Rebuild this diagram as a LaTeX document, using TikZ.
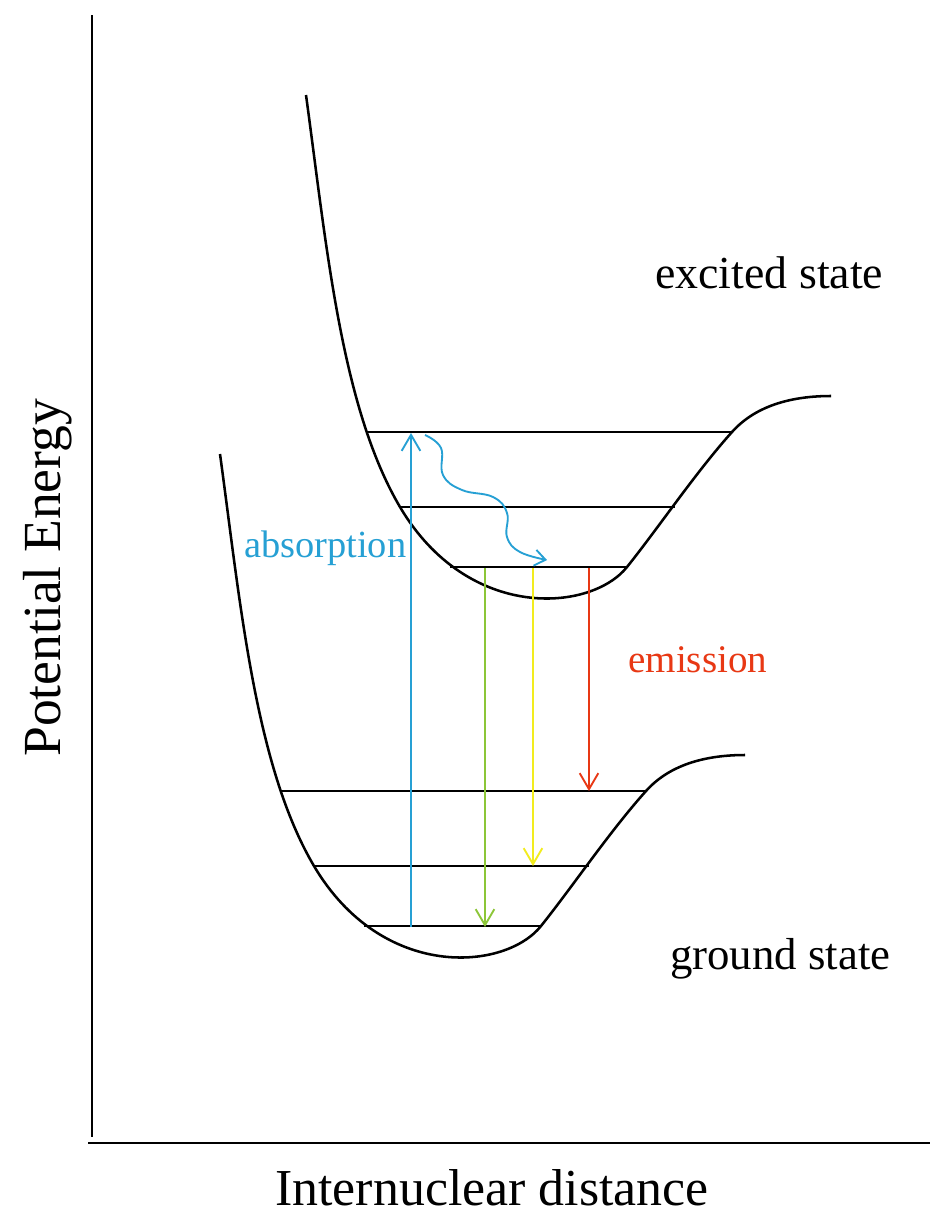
\documentclass[tikz,border=0pt]{standalone}
\usepackage{fontspec}
\setmainfont{Liberation Serif}
\usetikzlibrary{arrows.meta}
\definecolor{absblue}{RGB}{38,160,212}
\definecolor{emred}{RGB}{232,56,20}
\definecolor{emgreen}{RGB}{140,198,56}
\definecolor{emyellow}{RGB}{242,236,30}
\tikzset{
  curve/.style={line width=1.9pt, black},
  level/.style={line width=1.5pt, black},
  axis/.style={line width=2.1pt, black},
  trans/.style={line width=1.4pt, -{Straight Barb[length=12pt,width=14pt]}},
  wavy/.style={line width=1.4pt, absblue, -{Straight Barb[length=8pt,width=12pt]}},
  lbl/.style={inner sep=0pt, anchor=base west},
}
\newcommand{\wellcurve}{%
  \draw[curve] (306,95) .. controls (326.5,245) and (341,407) .. (400,507)
    .. controls (468,622) and (591,612) .. (627,567)
    .. controls (659,527) and (696,472) .. (732,432)
    .. controls (757,404) and (795,396) .. (831,396);
  \draw[level] (368,432) -- (732,432);
  \draw[level] (400,507) -- (675,507);
  \draw[level] (450,567) -- (627,567);
}
\begin{document}
\begin{tikzpicture}[x=0.75pt,y=-0.75pt]
\useasboundingbox[fill=white] (0,0) rectangle (930,1214);
% axes
\coordinate (ytop) at (92,15);
\coordinate (ybot) at (92,1137);
\coordinate (xl) at (88,1143);
\coordinate (xr) at (930,1143);
\draw[axis] (ytop) -- (ybot);
\draw[axis] (xl) -- (xr);
% excited state well
\begin{scope}
\wellcurve
\end{scope}
% ground state well
\begin{scope}[shift={(-86,359)}]
\wellcurve
\end{scope}
% transitions
\coordinate (a0) at (411,927);
\coordinate (a1) at (411,433);
\coordinate (g0) at (485,568);
\coordinate (g1) at (485,927);
\coordinate (y0) at (533,568);
\coordinate (y1) at (533,866);
\coordinate (r0) at (589,568);
\coordinate (r1) at (589,791);
\draw[trans, absblue] (a0) -- (a1);
\draw[trans, emgreen] (g0) -- (g1);
\draw[trans, emyellow] (y0) -- (y1);
\draw[trans, emred] (r0) -- (r1);
% relaxation
\draw[wavy] plot[smooth, tension=0.7] coordinates {(425,435) (441,448) (443,475) (462,490) (493,497) (507,513) (507,537) (520,552) (547,560)};
% labels
\node[lbl, font=\fontsize{34.4pt}{40pt}\selectfont] (exc) at (655,288) {excited state};
\node[lbl, font=\fontsize{33.6pt}{40pt}\selectfont] (gnd) at (670,969) {ground state};
\node[lbl, font=\fontsize{38.9pt}{46pt}\selectfont] (xlab) at (275,1205) {Internuclear distance};
\node[lbl, rotate=90, font=\fontsize{40.2pt}{46pt}\selectfont] (ylab) at (60,757) {Potential Energy};
\node[lbl, text=absblue, font=\fontsize{28.8pt}{34pt}\selectfont] (abs) at (244,557) {absorption};
\node[lbl, text=emred, font=\fontsize{29.3pt}{34pt}\selectfont] (em) at (628,672) {emission};
\end{tikzpicture}
\end{document}
